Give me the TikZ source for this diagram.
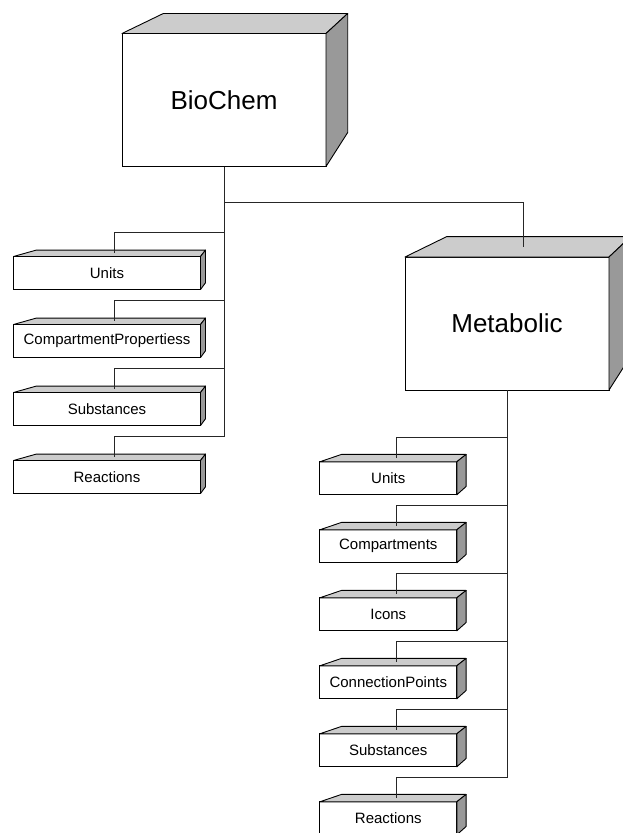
\documentclass[tikz,border=0pt]{standalone}
\usepackage{fontspec}
\setmainfont{Liberation Sans}
\usepackage{tikz}
\usetikzlibrary{positioning}

\definecolor{topgray}{RGB}{204,204,204}
\definecolor{sidegray}{RGB}{153,153,153}

% top and right faces of a box: node, left dx, right dx, top dy, bottom dy
\newcommand{\faces}[5]{%
  \filldraw[topface] (#1.north west) -- ([xshift=#2pt, yshift=#4pt]#1.north west)
    -- ([xshift=#3pt, yshift=#4pt]#1.north east) -- (#1.north east) -- cycle;
  \filldraw[sideface] (#1.north east) -- ([xshift=#3pt, yshift=#4pt]#1.north east)
    -- ([xshift=#3pt, yshift=#5pt]#1.south east) -- (#1.south east) -- cycle;
  \coordinate (#1-t) at ([xshift={(#2+#3)/4*1pt}, yshift={#4/2*1pt}]#1.north);
  \coordinate (#1-j) at ([yshift=21pt]#1-t);
}

\begin{document}
\begin{tikzpicture}[x=1pt, y=-1pt, node distance=35pt,
  front/.style = {draw, fill=white, rectangle, inner sep=0pt, outer sep=0pt, line width=0.9pt},
  bigbox/.style = {front, minimum width=204pt, minimum height=133pt, font=\fontsize{26}{30}\selectfont},
  leftbox/.style = {front, minimum width=187pt, minimum height=33pt, font=\fontsize{15}{18}\selectfont},
  rightbox/.style = {front, minimum width=137pt, minimum height=33pt, font=\fontsize{15}{18}\selectfont},
  topface/.style = {fill=topgray, draw=black, line width=0.9pt, line join=round},
  sideface/.style = {fill=sidegray, draw=black, line width=0.9pt, line join=round},
  link/.style = {draw=black!85, line width=0.7pt}]
\useasboundingbox (0,0) rectangle (623,833);
\clip (0,0) rectangle (623,833);

% packages
\node[bigbox] (biochem) at (224,100) {BioChem};
\node[bigbox] (meta) at (507,323.5) {Metabolic};

% BioChem parts
\node[leftbox] (units1) at (107,273) {Units};
\node[leftbox] (cprop) [below =of units1] {CompartmentPropertiess};
\node[leftbox] (subs1) [below =of cprop] {Substances};
\node[leftbox] (reac1) [below =of subs1] {Reactions};

% Metabolic parts
\node[rightbox] (units2) at (388.3,478.3) {Units};
\node[rightbox] (comp) [below =of units2] {Compartments};
\node[rightbox] (icons) [below =of comp] {Icons};
\node[rightbox] (cpts) [below =of icons] {ConnectionPoints};
\node[rightbox] (subs2) [below =of cpts] {Substances};
\node[rightbox] (reac2) [below =of subs2] {Reactions};

\faces{biochem}{41.3}{21.7}{20}{34}
\faces{meta}{41.7}{21.7}{20.4}{34}
\foreach \n in {units1,cprop,subs1,reac1} {\faces{\n}{22.7}{5}{6.4}{6.7}}
\foreach \n in {units2,comp,icons,cpts,subs2,reac2} {\faces{\n}{21.7}{9.3}{7.4}{8.3}}

\coordinate[below=36pt of biochem.south] (split);

% connectors
\draw[link] (split) -| (meta-t);
\draw[link] (biochem.south) |- (reac1-j) -- (reac1-t);
\foreach \n in {units1,cprop,subs1}
  \draw[link] (biochem.south |- \n-j) -- (\n-j) -- (\n-t);
\draw[link] (meta.south) |- (reac2-j) -- (reac2-t);
\foreach \n in {units2,comp,icons,cpts,subs2}
  \draw[link] (meta.south |- \n-j) -- (\n-j) -- (\n-t);
\end{tikzpicture}
\end{document}
